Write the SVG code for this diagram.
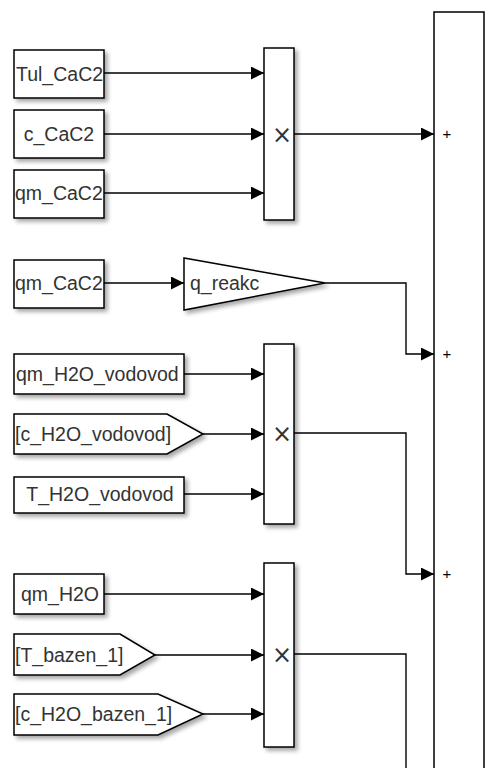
<svg xmlns="http://www.w3.org/2000/svg" width="485" height="768" viewBox="0 0 485 768">
<defs>
<filter id="sh" x="-20%" y="-20%" width="150%" height="150%">
<feDropShadow dx="3" dy="3" stdDeviation="2" flood-color="#000" flood-opacity="0.35"/>
</filter>
<marker id="ar" markerUnits="userSpaceOnUse" markerWidth="14" markerHeight="14" refX="13" refY="6.5" orient="auto">
<path d="M0,0 L13,6.5 L0,13 Z" fill="#000"/>
</marker>
</defs>
<style>
.blk{fill:#fff;stroke:#000;stroke-width:1.5;filter:url(#sh)}
.t{font-family:"Liberation Sans",Arial,sans-serif;font-size:19.5px;fill:#333}
.c{fill:none;stroke:#000;stroke-width:1.4}
.a{marker-end:url(#ar)}
.sym{font-family:"DejaVu Sans","Liberation Sans",sans-serif;fill:#333;text-anchor:middle}
.pl{font-family:"Liberation Sans",Arial,sans-serif;fill:#000;text-anchor:middle;font-size:15px}
</style>
<rect width="485" height="768" fill="#fff"/>
<g id="connectors">
<line class="c a" x1="104" y1="73" x2="264" y2="73"/>
<line class="c a" x1="104" y1="134" x2="264" y2="134"/>
<line class="c a" x1="104" y1="193" x2="264" y2="193"/>
<line class="c a" x1="294" y1="134" x2="434" y2="134"/>
<line class="c a" x1="104" y1="283" x2="184" y2="283"/>
<polyline class="c a" points="325,283 406,283 406,354 434,354"/>
<line class="c a" x1="184" y1="374" x2="264" y2="374"/>
<line class="c a" x1="203" y1="434" x2="264" y2="434"/>
<line class="c a" x1="184" y1="494" x2="264" y2="494"/>
<polyline class="c a" points="294,433 406,433 406,574 434,574"/>
<line class="c a" x1="104" y1="594" x2="264" y2="594"/>
<line class="c a" x1="155" y1="655" x2="264" y2="655"/>
<line class="c a" x1="203" y1="714" x2="264" y2="714"/>
<polyline class="c" points="294,654 406,654 406,775"/>
</g>
<g id="sum">
<rect x="434" y="12" width="50" height="800" fill="#fff" stroke="#000" stroke-width="1.5"/>
<text class="pl" x="447" y="139">+</text>
<text class="pl" x="447" y="359">+</text>
<text class="pl" x="447" y="579">+</text>
</g>
<g id="Tul_CaC2">
<rect class="blk" x="14" y="50" width="90" height="48"/>
<text class="t" x="16" y="81">Tul_CaC2</text>
</g>
<g id="c_CaC2">
<rect class="blk" x="14" y="110" width="90" height="48"/>
<text class="t" x="59" y="141" text-anchor="middle">c_CaC2</text>
</g>
<g id="qm_CaC2_1">
<rect class="blk" x="14" y="170" width="90" height="48"/>
<text class="t" x="15" y="200">qm_CaC2</text>
</g>
<g id="product1">
<rect class="blk" x="264" y="48" width="30" height="172"/>
<text class="sym" x="282" y="143" font-size="24">×</text>
</g>
<g id="qm_CaC2_2">
<rect class="blk" x="14" y="260" width="90" height="48"/>
<text class="t" x="15" y="290">qm_CaC2</text>
</g>
<g id="q_reakc">
<polygon class="blk" points="184,258 325,283 184,310"/>
<text class="t" x="190" y="290">q_reakc</text>
</g>
<g id="qm_H2O_vodovod">
<rect class="blk" x="14" y="354" width="170" height="40"/>
<text class="t" x="16" y="381">qm_H2O_vodovod</text>
</g>
<g id="c_H2O_vodovod">
<polygon class="blk" points="14,414 167,414 203,434 167,454 14,454"/>
<text class="t" x="15" y="441">[c_H2O_vodovod]</text>
</g>
<g id="T_H2O_vodovod">
<rect class="blk" x="14" y="477" width="170" height="36"/>
<text class="t" x="100" y="501" text-anchor="middle">T_H2O_vodovod</text>
</g>
<g id="product2">
<rect class="blk" x="264" y="344" width="30" height="180"/>
<text class="sym" x="282" y="442" font-size="24">×</text>
</g>
<g id="qm_H2O">
<rect class="blk" x="14" y="574" width="90" height="40"/>
<text class="t" x="60" y="601" text-anchor="middle">qm_H2O</text>
</g>
<g id="T_bazen_1">
<polygon class="blk" points="14,634 120,634 155,655 120,675 14,675"/>
<text class="t" x="15" y="662">[T_bazen_1]</text>
</g>
<g id="c_H2O_bazen_1">
<polygon class="blk" points="14,694 158,694 203,714 158,735 14,735"/>
<text class="t" x="15" y="721">[c_H2O_bazen_1]</text>
</g>
<g id="product3">
<rect class="blk" x="264" y="563" width="30" height="184"/>
<text class="sym" x="282" y="663" font-size="24">×</text>
</g>
</svg>
